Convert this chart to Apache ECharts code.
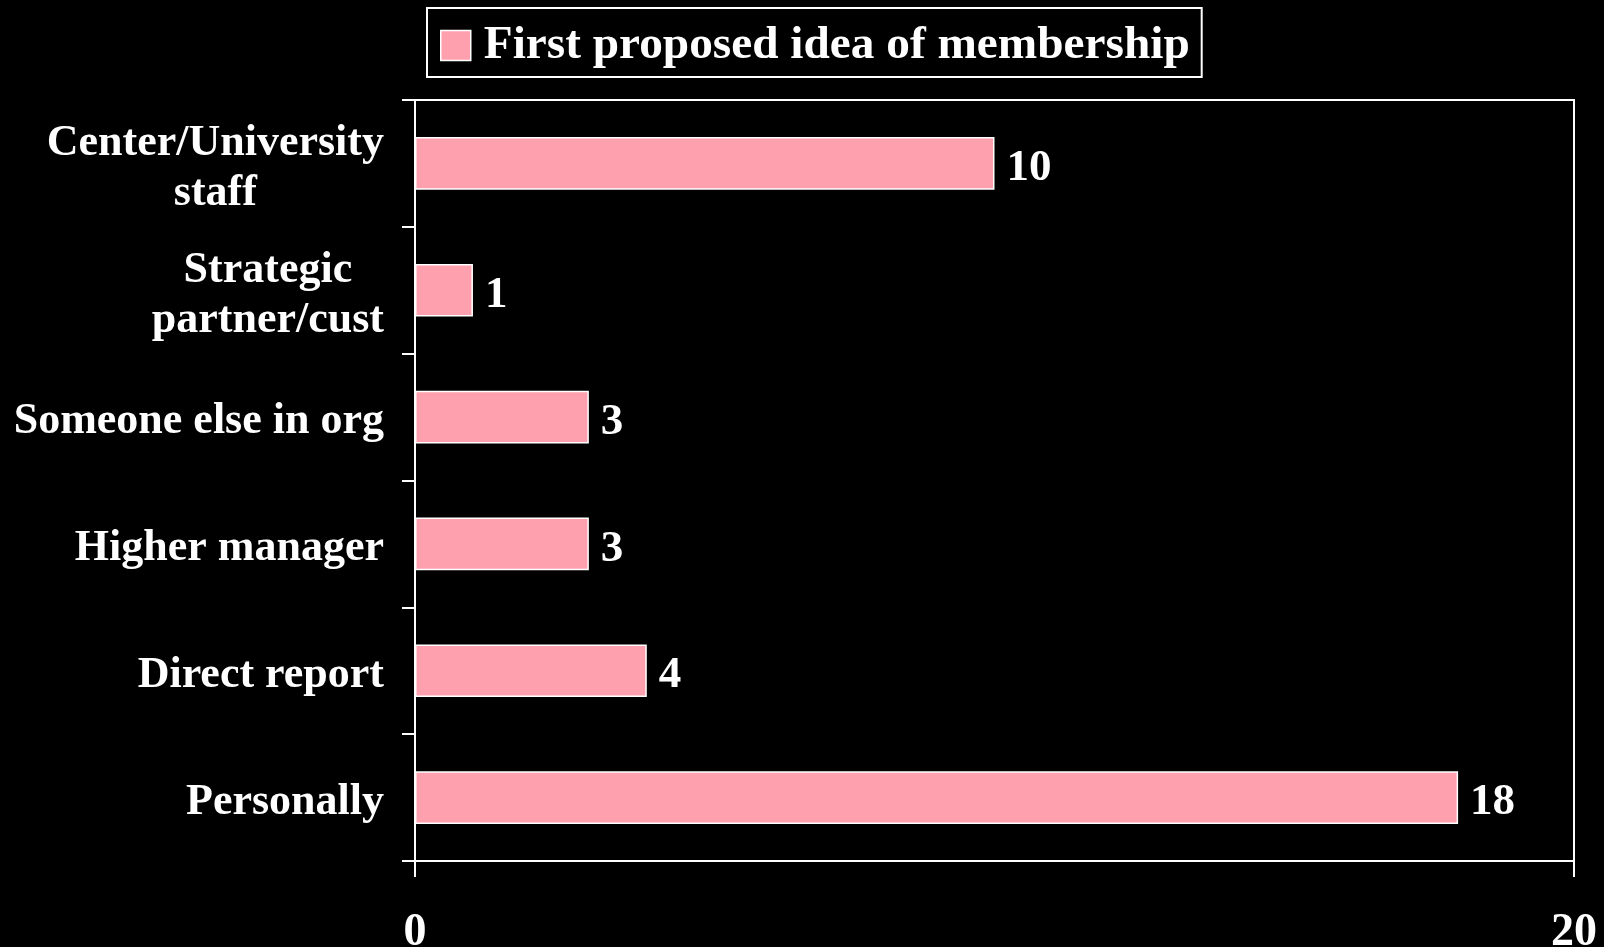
<!DOCTYPE html>
<html>
<head>
<meta charset="utf-8">
<title>First proposed idea of membership</title>
<script src="https://cdn.jsdelivr.net/npm/echarts@6/dist/echarts.min.js"></script>
<style>
  html, body { margin: 0; padding: 0; background: #000; }
  #chart { width: 1604px; height: 947px; }
</style>
</head>
<body>
<div id="chart"></div>
<script>
// Who first proposed the idea of membership (counts), listed top to bottom
const categories = [
  'Center/University\nstaff',
  'Strategic\npartner/cust',
  'Someone else in org',
  'Higher manager',
  'Direct report',
  'Personally'
];
const counts = [10, 1, 3, 3, 4, 18];
const seriesName = 'First proposed idea of membership';
const xTicks = [0, 20];

const FONT = '"Liberation Serif", "Times New Roman", serif';
const PINK = '#FFA0AE';

const chart = echarts.init(document.getElementById('chart'), null, { renderer: 'canvas' });

chart.setOption({
  backgroundColor: '#000',
  animation: false,
  legend: {
    left: 427,
    top: 8,
    padding: [9, 12, 3, 13],
    borderColor: '#fff',
    borderWidth: 2,
    itemWidth: 30,
    itemHeight: 30,
    icon: 'rect',
    itemStyle: { borderColor: '#fff', borderWidth: 1.5 },
    textStyle: {
      color: '#fff',
      fontFamily: FONT,
      fontWeight: 'bold',
      fontSize: 47.3,
      lineHeight: 50,
      padding: [7, 0, 0, 8]
    },
    data: [seriesName]
  },
  grid: {
    left: 415,
    right: 30,
    top: 100,
    bottom: 86,
    outerBoundsMode: 'none',
    show: true,
    borderColor: '#fff',
    borderWidth: 2,
    backgroundColor: 'transparent',
    containLabel: false
  },
  xAxis: {
    type: 'value',
    min: xTicks[0],
    max: xTicks[xTicks.length - 1],
    interval: xTicks[1] - xTicks[0],
    axisLine: { show: true, lineStyle: { color: '#fff', width: 2 } },
    axisTick: { show: true, length: 16, lineStyle: { color: '#fff', width: 2 } },
    splitLine: { show: false },
    axisLabel: {
      color: '#fff',
      fontFamily: FONT,
      fontWeight: 'bold',
      fontSize: 46,
      margin: 49
    }
  },
  yAxis: {
    type: 'category',
    inverse: true,
    data: categories,
    axisLine: { show: true, lineStyle: { color: '#fff', width: 2 } },
    axisTick: { show: true, length: 13, lineStyle: { color: '#fff', width: 2 } },
    axisLabel: {
      color: '#fff',
      fontFamily: FONT,
      fontWeight: 'bold',
      fontSize: 44,
      lineHeight: 50,
      margin: 31,
      padding: [10, 0, 0, 0],
      formatter: function (v) {
        if (v.indexOf('\n') < 0) return v;
        return v.split('\n').map(function (s) { return '{c|' + s + '}'; }).join('\n');
      },
      rich: {
        c: {
          color: '#fff',
          fontFamily: FONT,
          fontWeight: 'bold',
          fontSize: 44,
          lineHeight: 50,
          align: 'center'
        }
      }
    }
  },
  series: [{
    name: seriesName,
    type: 'bar',
    data: counts,
    barWidth: '41.5%',
    itemStyle: { color: PINK, borderColor: '#fff', borderWidth: 1.5 },
    label: {
      show: true,
      position: 'right',
      distance: 12,
      offset: [0, 5],
      color: '#fff',
      fontFamily: FONT,
      fontWeight: 'bold',
      fontSize: 45
    }
  }]
});
</script>
</body>
</html>
